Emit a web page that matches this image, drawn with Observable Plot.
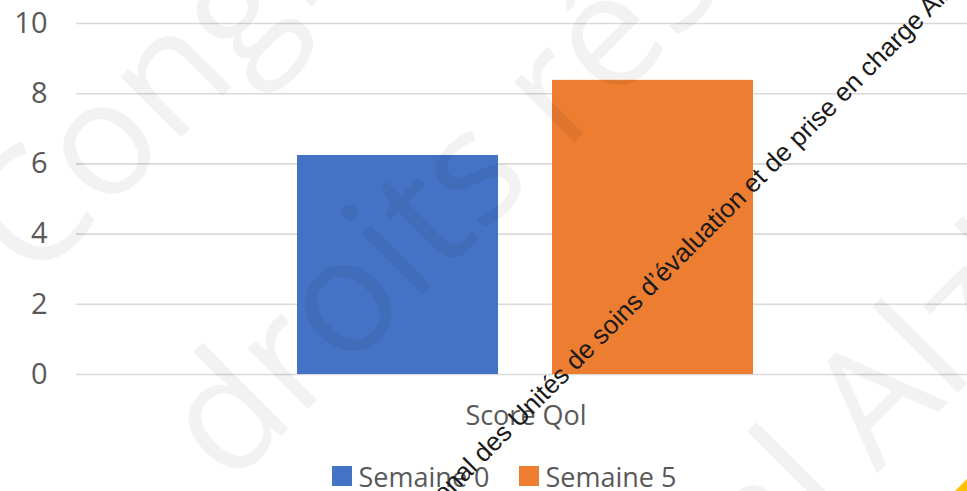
<!DOCTYPE html>
<html>
<head>
<meta charset="utf-8">
<script src="https://cdn.jsdelivr.net/npm/d3@7"></script>
<script src="https://cdn.jsdelivr.net/npm/@observablehq/plot@0.6"></script>
<style>
  html, body { margin: 0; padding: 0; background: #fff; overflow: hidden; }
  #wrap { position: relative; width: 967px; height: 491px; overflow: hidden; background: #fff; }
  #chart svg { display: block; }
  #legend { position: absolute; top: 455px; left: 0; width: 967px; height: 42px; box-sizing: border-box;
            padding-left: 41px; display: flex; justify-content: center; align-items: center;
            font-family: "Open Sans", sans-serif; font-size: 27px; color: #595959; }
  .item { display: flex; align-items: center; }
  .item + .item { margin-left: 29px; }
  .sw { width: 20px; height: 20px; margin-right: 7px; }
  #overlay { position: absolute; left: 0; top: 0; pointer-events: none; }
</style>
</head>
<body>
<div id="wrap">
  <div id="chart"></div>
  <div id="legend"></div>
  <svg id="overlay" width="967" height="491"></svg>
</div>
<script>
const categories = ["Score Qol"];
const series = ["Semaine 0", "Semaine 5"];
const values = [6.24, 8.38];
const colors = ["#4472C4", "#ED7D31"];
const yTicks = [0, 2, 4, 6, 8, 10];

const data = series.map((s, i) => ({category: categories[0], series: s, value: values[i]}));

const chart = Plot.plot({
  width: 967,
  height: 455,
  marginLeft: 76,
  marginRight: 0,
  marginTop: 23,
  marginBottom: 81,
  style: {fontFamily: "Open Sans", fontSize: "29px", color: "#595959", background: "white", overflow: "visible"},
  fx: {domain: categories, padding: 0, label: null, axis: null},
  x: {domain: series, paddingInner: 0.211, paddingOuter: 0.846, align: 0.508, axis: null},
  y: {domain: [0, 10], label: null},
  color: {domain: series, range: colors},
  marks: [
    Plot.gridY(yTicks, {stroke: "#d9d9d9", strokeOpacity: 1, strokeWidth: 1.6}),
    Plot.barY(data, {fx: "category", x: "series", y: "value", fill: "series"}),
    Plot.axisY(yTicks, {tickSize: 0, tickPadding: 29, fontSize: 29, fill: "#595959", label: null}),
    Plot.axisFx({anchor: "bottom", tickSize: 0, tickPadding: 31, fontSize: 27, fill: "#595959", label: null, dx: 4})
  ]
});
document.getElementById("chart").appendChild(chart);

// legend
const legend = document.getElementById("legend");
series.forEach((s, i) => {
  const it = document.createElement("div");
  it.className = "item";
  const sw = document.createElement("div");
  sw.className = "sw";
  sw.style.background = colors[i];
  const t = document.createElement("span");
  t.textContent = s;
  it.appendChild(sw); it.appendChild(t);
  legend.appendChild(it);
});

// watermark overlay
const ov = d3.select("#overlay");
const wm = ov.append("g").attr("transform", "rotate(-45)")
  .attr("font-family", "Open Sans").attr("font-size", 160).attr("fill", "#000").attr("fill-opacity", 0.05);
wm.append("text").attr("x", -180).attr("y", 225).text("Congrès");
wm.append("text").attr("x", -183).attr("y", 507).text("droits réservés");
wm.append("text").attr("x", 250).attr("y", 955).attr("text-anchor", "end").text("national");
wm.append("text").attr("x", 285).attr("y", 955).text("Alzheimer");

const bt = ov.append("g").attr("transform", "rotate(-45)")
  .attr("font-family", "Liberation Sans, Arial, sans-serif").attr("font-size", 26).attr("fill", "#1a1a1a");
bt.append("text").attr("x", 56).attr("y", 670).attr("text-anchor", "end").text("Congrès national des");
bt.append("text").attr("x", 63.6).attr("y", 670).text("Unités de soins d’évaluation et de prise en charge Alzheimer");

ov.append("polygon").attr("points", "955,491 967,491 967,479").attr("fill", "#FFC000");
</script>
</body>
</html>
